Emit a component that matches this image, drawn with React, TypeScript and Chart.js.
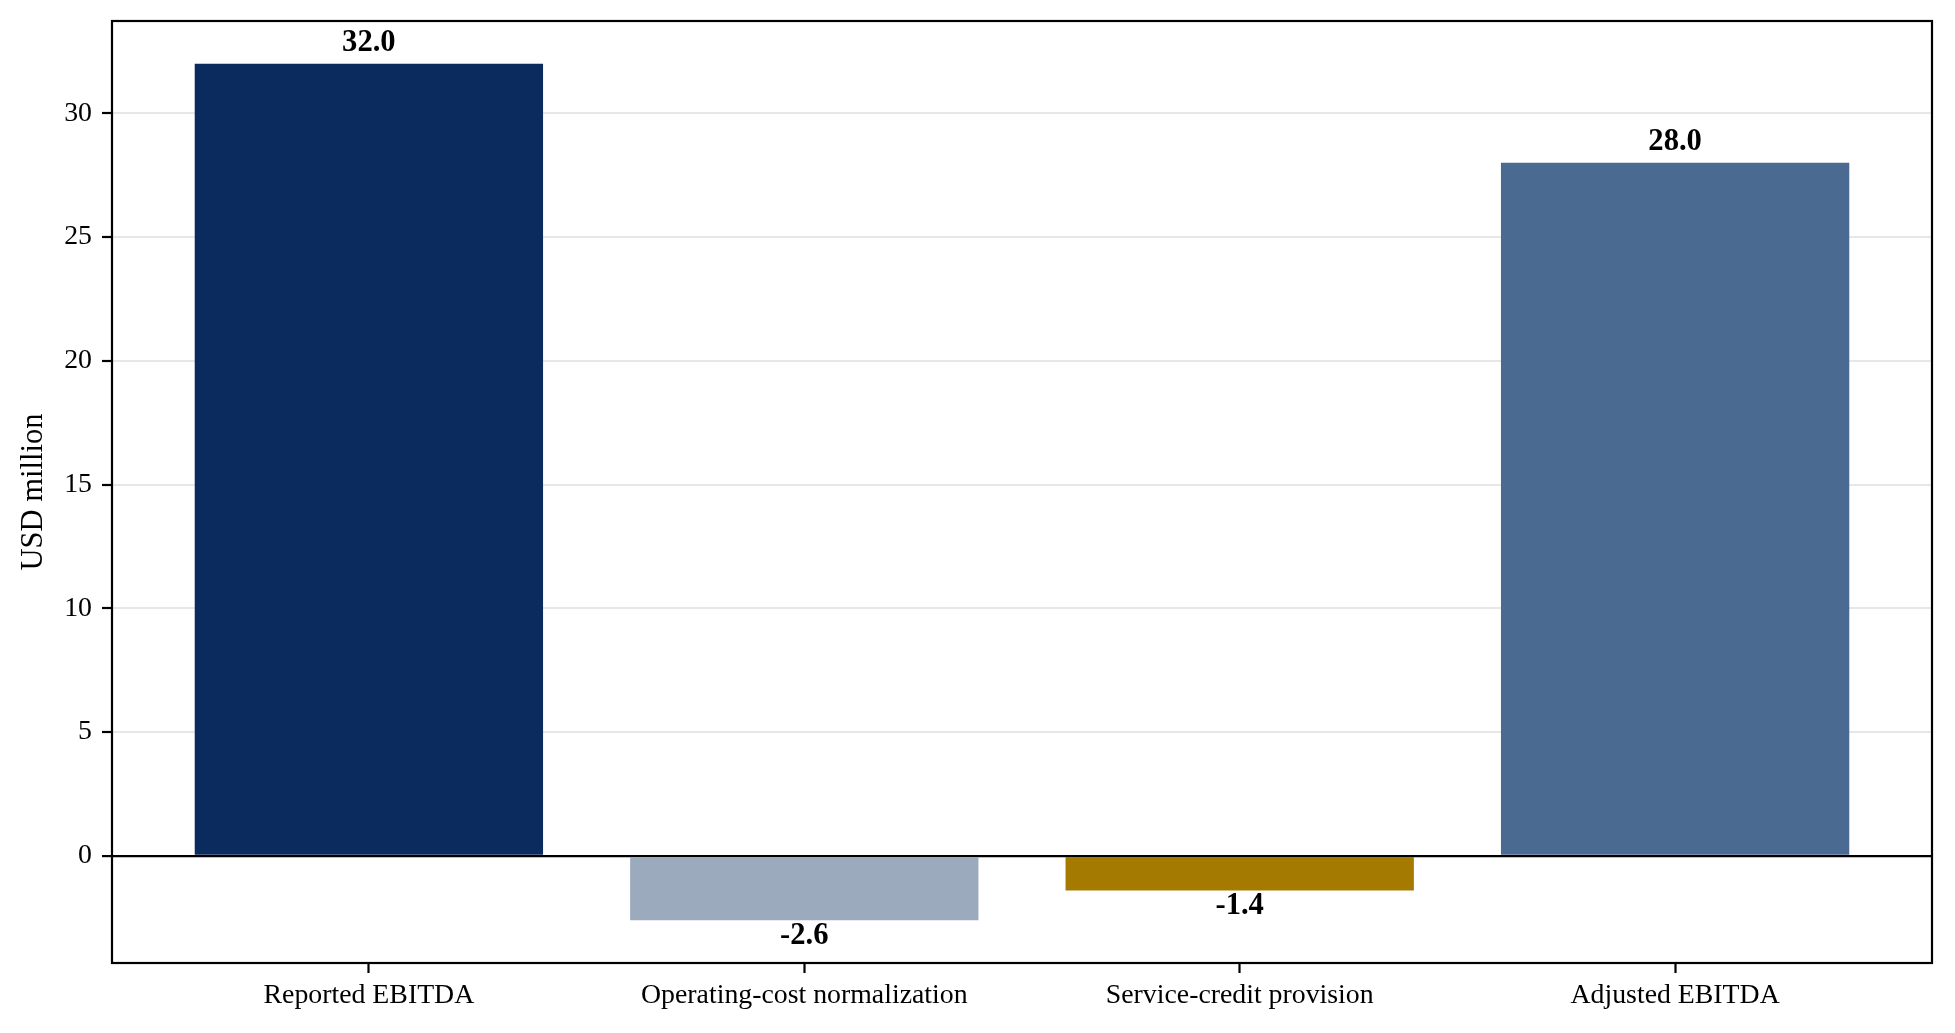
import { useEffect, useRef } from "react";
import { Chart, registerables } from "chart.js";

Chart.register(...registerables);

const categories = [
  "Reported EBITDA",
  "Operating-cost normalization",
  "Service-credit provision",
  "Adjusted EBITDA",
];
const values = [32.0, -2.6, -1.4, 28.0];
const barColors = ["#0b2a5e", "#9caabd", "#a57a00", "#4a6a92"];
const yTicks = [0, 5, 10, 15, 20, 25, 30];

const SERIF = '"Liberation Serif", "Times New Roman", serif';

// value labels above / below each bar
const valueLabels = {
  id: "valueLabels",
  afterDraw(chart: any) {
    const ctx = chart.ctx;
    const meta = chart.getDatasetMeta(0);
    ctx.save();
    ctx.font = `bold 30.6px ${SERIF}`;
    ctx.fillStyle = "#000";
    ctx.textAlign = "center";
    ctx.textBaseline = "middle";
    meta.data.forEach((bar: any, i: number) => {
      const v = values[i];
      const y = v >= 0 ? bar.y - 21 : bar.y + 16;
      ctx.fillText(v.toFixed(1), bar.x, y);
    });
    ctx.restore();
  },
};

// full box around the plot area
const frame = {
  id: "frame",
  afterDraw(chart: any) {
    const { left, top, right, bottom } = chart.chartArea;
    const ctx = chart.ctx;
    ctx.save();
    ctx.strokeStyle = "#000";
    ctx.lineWidth = 2.2;
    ctx.strokeRect(left, top, right - left, bottom - top);
    ctx.restore();
  },
};

export default function App() {
  const canvasRef = useRef<HTMLCanvasElement | null>(null);
  const chartRef = useRef<Chart | null>(null);

  useEffect(() => {
    document.body.style.margin = "0";
    if (!canvasRef.current) return;
    if (chartRef.current) chartRef.current.destroy();

    // matplotlib-like auto margins
    const xLo = -0.4;
    const xHi = categories.length - 1 + 0.4;
    const xPad = (xHi - xLo) * 0.05;
    const yLo = Math.min(0, ...values);
    const yHi = Math.max(0, ...values);
    const yPad = (yHi - yLo) * 0.05;

    chartRef.current = new Chart(canvasRef.current, {
      type: "bar",
      data: {
        datasets: [
          {
            data: values.map((v, i) => ({ x: i, y: v })),
            backgroundColor: barColors,
            borderWidth: 0,
            barPercentage: 0.8,
            categoryPercentage: 1,
          },
        ],
      },
      options: {
        responsive: false,
        animation: false,
        devicePixelRatio: 1,
        layout: { padding: { top: 21, right: 23, left: 0, bottom: 0 } },
        plugins: {
          legend: { display: false },
          tooltip: { enabled: false },
        },
        scales: {
          x: {
            type: "linear",
            offset: false,
            min: xLo - xPad,
            max: xHi + xPad,
            afterBuildTicks: (axis: any) => {
              axis.ticks = categories.map((_, i) => ({ value: i }));
            },
            afterFit: (axis: any) => {
              axis.height = 70;
              axis.paddingLeft = 0;
              axis.paddingRight = 0;
            },
            border: { display: false },
            grid: {
              offset: false,
              drawOnChartArea: false,
              drawTicks: true,
              tickLength: 10,
              tickColor: "#000",
              tickWidth: 2.2,
            },
            ticks: {
              autoSkip: false,
              maxRotation: 0,
              padding: 6,
              color: "#000",
              font: { family: SERIF, size: 27.8 },
              callback: (v: any) => categories[Math.round(Number(v))] ?? "",
            },
          },
          y: {
            z: 1,
            min: yLo - yPad,
            max: yHi + yPad,
            afterBuildTicks: (axis: any) => {
              axis.ticks = yTicks.map((v) => ({ value: v }));
            },
            afterFit: (axis: any) => {
              axis.width = 112;
              axis.paddingTop = 0;
              axis.paddingBottom = 0;
            },
            border: { display: false },
            grid: {
              color: (c: any) => (c.tick && c.tick.value === 0 ? "#000" : "rgba(176,176,176,0.3)"),
              lineWidth: (c: any) => (c.tick && c.tick.value === 0 ? 2.2 : 2),
              drawTicks: true,
              tickLength: 10,
              tickColor: "#000",
              tickWidth: 2.2,
            },
            ticks: {
              padding: 10,
              color: "#000",
              font: { family: SERIF, size: 27.8 },
            },
            title: {
              display: true,
              text: "USD million",
              color: "#000",
              font: { family: SERIF, size: 30.6 },
              padding: { top: 16, bottom: 0 },
            },
          },
        },
      },
      plugins: [valueLabels, frame],
    });

    return () => {
      chartRef.current?.destroy();
    };
  }, []);

  return (
    <div style={{ width: 1955, height: 1033, background: "#fff" }}>
      <canvas ref={canvasRef} width={1955} height={1033} />
    </div>
  );
}
